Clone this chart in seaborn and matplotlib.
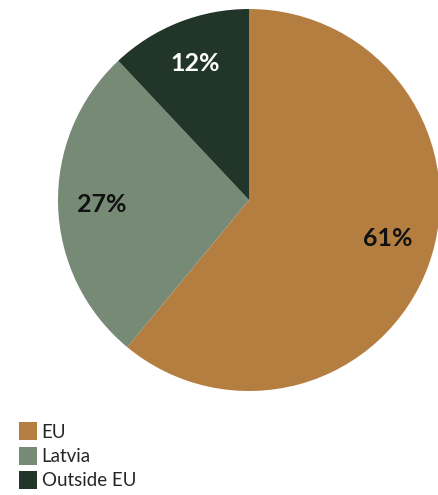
import matplotlib
matplotlib.use("Agg")
import matplotlib.pyplot as plt
from matplotlib.lines import Line2D
import seaborn as sns

# Share of origin
categories = ["EU", "Latvia", "Outside EU"]
shares = [61, 27, 12]
colors = ["#B47E40", "#778A76", "#223529"]
label_colors = ["#111111", "#111111", "#FFFFFF"]

sns.set_theme(style="white")
plt.rcParams["font.family"] = ["Lato", "DejaVu Sans"]

W, H = 439, 495
fig = plt.figure(figsize=(W / 100, H / 100), dpi=100)

# Pie axes: square, centred at (249, 200) px with radius 191 px
cx, cy, r = 249, 200, 191
ax = fig.add_axes([(cx - r) / W, (H - cy - r) / H, 2 * r / W, 2 * r / H])

wedges, texts, autotexts = ax.pie(
    shares,
    colors=colors,
    startangle=90,
    counterclock=False,
    radius=1,
    autopct=lambda p: f"{p:.0f}%",
    pctdistance=0.77,
    wedgeprops=dict(linewidth=0),
)
for t, c in zip(autotexts, label_colors):
    t.set_color(c)
    t.set_fontsize(18)
    t.set_fontweight("bold")
# lift the largest label a touch towards the horizontal
x0, y0 = autotexts[0].get_position()
autotexts[0].set_position((x0, y0 + 0.06))
ax.set_xlim(-1, 1)
ax.set_ylim(-1, 1)
ax.set_aspect("equal")
ax.axis("off")

handles = [
    Line2D([0], [0], marker="s", linestyle="none", markersize=12.5,
           markerfacecolor=c, markeredgewidth=0)
    for c in colors
]
fig.legend(
    handles, categories,
    loc="upper left",
    bbox_to_anchor=(20 / W, 1 - 424 / H),
    frameon=False,
    fontsize=13.5,
    handlelength=0.9,
    handletextpad=0.25,
    labelspacing=0.38,
    borderaxespad=0,
    borderpad=0,
)

fig.savefig("out.png", dpi=100)
